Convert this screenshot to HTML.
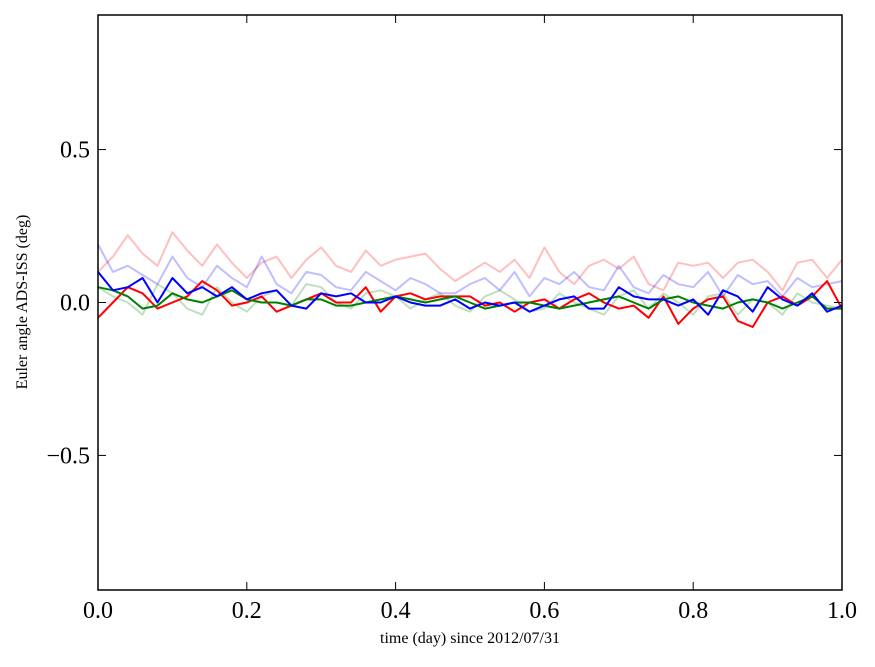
<!DOCTYPE html>
<html><head><meta charset="utf-8"><style>
body{margin:0;background:#fff}
svg text{font-family:"Liberation Serif",serif;fill:#000}
</style></head><body>
<svg id="chart" width="875" height="662" xmlns="http://www.w3.org/2000/svg">
<rect width="875" height="662" fill="#fff"/>
<g id="series"></g>
<g id="axes"></g>
<text x="470" y="643" font-size="16" text-anchor="middle">time (day) since 2012/07/31</text>
<text transform="translate(27,302) rotate(-90)" font-size="16" text-anchor="middle">Euler angle ADS-ISS (deg)</text>
</svg>
<script>
const xTicks=[0,0.2,0.4,0.6,0.8,1.0];
const xTickLabels=["0.0","0.2","0.4","0.6","0.8","1.0"];
const yTicks=[-0.5,0,0.5];
const yTickLabels=["\u22120.5","0.0","0.5"];
const lightRed=[0.10,0.15,0.22,0.16,0.12,0.23,0.17,0.12,0.19,0.13,0.08,0.13,0.15,0.08,0.14,0.18,0.12,0.10,0.17,0.12,0.14,0.15,0.16,0.11,0.07,0.10,0.13,0.10,0.14,0.08,0.18,0.10,0.06,0.12,0.14,0.11,0.15,0.06,0.04,0.13,0.12,0.13,0.08,0.13,0.14,0.10,0.04,0.13,0.14,0.08,0.14];
const lightBlue=[0.19,0.10,0.12,0.09,0.06,0.15,0.08,0.05,0.12,0.08,0.05,0.15,0.06,0.03,0.10,0.09,0.05,0.04,0.10,0.07,0.04,0.08,0.06,0.03,0.03,0.06,0.08,0.04,0.10,0.02,0.08,0.06,0.10,0.05,0.04,0.12,0.05,0.03,0.09,0.06,0.05,0.10,0.02,0.09,0.06,0.07,0.02,0.08,0.05,0.06,0.07];
const lightGreen=[0.05,0.02,0.00,-0.04,0.06,0.03,-0.02,-0.04,0.05,0.00,-0.03,0.02,0.04,-0.01,0.06,0.05,0.00,-0.02,0.03,0.04,0.02,-0.02,0.01,0.03,-0.01,-0.03,0.02,0.04,0.01,-0.03,-0.02,0.03,0.00,-0.02,-0.04,0.02,0.04,-0.02,0.03,0.00,-0.04,0.02,0.03,-0.04,0.01,0.00,-0.04,0.03,0.00,-0.01,-0.02];
const red=[-0.05,0.00,0.05,0.03,-0.02,0.00,0.02,0.07,0.04,-0.01,0.00,0.02,-0.03,-0.01,0.01,0.03,0.00,0.00,0.05,-0.03,0.02,0.03,0.01,0.02,0.02,0.02,-0.01,0.00,-0.03,0.00,0.01,-0.02,0.01,0.03,0.00,-0.02,-0.01,-0.05,0.02,-0.07,-0.02,0.01,0.02,-0.06,-0.08,0.00,0.02,-0.01,0.02,0.07,-0.02];
const green=[0.05,0.04,0.02,-0.02,-0.01,0.03,0.01,0.00,0.02,0.04,0.01,0.00,0.00,-0.01,0.01,0.01,-0.01,-0.01,0.00,0.01,0.02,0.01,0.00,0.01,0.02,0.00,-0.02,-0.01,0.00,0.00,-0.01,-0.02,-0.01,0.00,0.01,0.02,0.00,-0.02,0.01,0.02,0.00,-0.01,-0.02,0.00,0.01,0.00,-0.02,0.00,0.02,-0.02,-0.02];
const blue=[0.10,0.04,0.05,0.08,0.00,0.08,0.03,0.05,0.02,0.05,0.01,0.03,0.04,-0.01,-0.02,0.03,0.02,0.03,0.00,0.00,0.02,0.00,-0.01,-0.01,0.01,-0.02,0.00,-0.01,0.00,-0.03,-0.01,0.01,0.02,-0.02,-0.02,0.05,0.02,0.01,0.01,-0.01,0.01,-0.04,0.04,0.02,-0.03,0.05,0.01,-0.01,0.03,-0.03,-0.01];
const L=98,R=842,T=15,B=590,YMIN=-0.94,YMAX=0.94;
const sx=v=>L+(R-L)*v;
const sy=v=>B-(B-T)*(v-YMIN)/(YMAX-YMIN);
const NS="http://www.w3.org/2000/svg";
const sg=document.getElementById('series'),ag=document.getElementById('axes');
function line(vals,color,op,name){
  const p=document.createElementNS(NS,'path');
  let d='';vals.forEach((v,i)=>{d+=(i?'L':'M')+sx(i/(vals.length-1)).toFixed(1)+','+sy(v).toFixed(1);});
  p.setAttribute('d',d);p.setAttribute('fill','none');p.setAttribute('stroke',color);
  p.setAttribute('stroke-opacity',op);p.setAttribute('stroke-width','2');p.setAttribute('stroke-linejoin','round');
  
  
  sg.appendChild(p);
}
line(lightRed,'#ff0000',0.25,'series-light-red');
line(lightBlue,'#0000ff',0.25,'series-light-blue');
line(lightGreen,'#008000',0.25,'series-light-green');
line(red,'#ff0000',1,'series-red');
line(green,'#008000',1,'series-green');
line(blue,'#0000ff',1,'series-blue');
function el(tag,attrs,name,txt){const e=document.createElementNS(NS,tag);for(const k in attrs)e.setAttribute(k,attrs[k]);
  
  
  if(txt)e.textContent=txt;ag.appendChild(e);return e;}
el('rect',{x:L,y:T,width:R-L,height:B-T,fill:'none',stroke:'#000','stroke-width':1.5},'plot-frame');
xTicks.forEach((t,i)=>{const x=sx(t);
  el('line',{x1:x,x2:x,y1:B,y2:B-8,stroke:'#000'},'x-tick');
  el('line',{x1:x,x2:x,y1:T,y2:T+8,stroke:'#000'},'x-tick-top');
  el('text',{x:x,y:B+28,'font-size':24,'text-anchor':'middle'},'x-tick-label',xTickLabels[i]);});
yTicks.forEach((t,i)=>{const y=sy(t);
  el('line',{x1:L,x2:L+8,y1:y,y2:y,stroke:'#000'},'y-tick');
  el('line',{x1:R,x2:R-8,y1:y,y2:y,stroke:'#000'},'y-tick-right');
  el('text',{x:L-8,y:y+8,'font-size':24,'text-anchor':'end'},'y-tick-label',yTickLabels[i]);});
</script>
</body></html>
